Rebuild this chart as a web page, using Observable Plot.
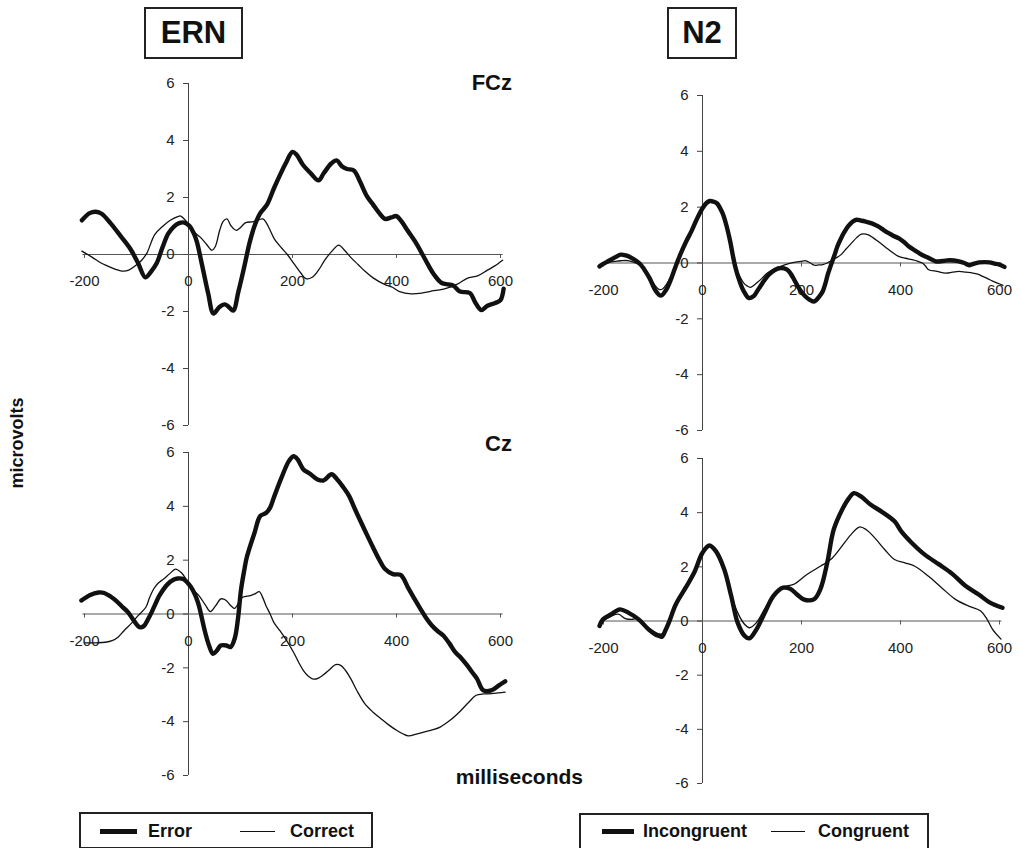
<!DOCTYPE html>
<html>
<head>
<meta charset="utf-8">
<script src="https://cdn.jsdelivr.net/npm/d3@7"></script>
<script src="https://cdn.jsdelivr.net/npm/@observablehq/plot@0.6"></script>
<style>
  html, body { margin: 0; padding: 0; background: #fff; }
  #page { position: relative; width: 1020px; height: 848px; overflow: hidden; font-family: "Liberation Sans", Arial, sans-serif; color: #111; }
  .title { position: absolute; border: 2px solid #222; box-sizing: border-box; font-weight: bold; font-size: 31px; display: flex; align-items: center; justify-content: center; }
  .lab { position: absolute; font-weight: bold; white-space: nowrap; }
  .legend { position: absolute; border: 2px solid #222; box-sizing: border-box; }
  .swatch { position: absolute; background: #111; }
  .ltext { position: absolute; font-weight: bold; font-size: 18px; line-height: 18px; white-space: nowrap; }
  svg { overflow: visible; }
</style>
</head>
<body>
<div id="page"></div>
<script>
// ---------- tick labels ----------
const xTicks = [-200, 0, 200, 400, 600];
const yTicks = [-6, -4, -2, 0, 2, 4, 6];

// ---------- data: [ms, microvolts] ----------
const ernFCzError = [[-205,1.2],[-190,1.45],[-178,1.5],[-167,1.43],[-150,1.1],[-134,0.73],[-122,0.45],[-112,0.2],[-97,-0.3],[-83,-0.8],[-72,-0.6],[-61,-0.3],[-50,0.25],[-39,0.73],[-28,0.98],[-18,1.1],[-8,1.12],[2,1.0],[10,0.75],[16,0.45],[27,-0.45],[38,-1.38],[48,-2.07],[59,-1.85],[70,-1.75],[78,-1.85],[86,-1.97],[96,-1.3],[107,-0.45],[118,0.45],[128,1.05],[138,1.45],[151,1.75],[165,2.35],[187,3.2],[200,3.6],[208,3.5],[220,3.15],[235,2.85],[250,2.6],[260,2.85],[275,3.2],[285,3.3],[295,3.1],[305,3.0],[318,2.95],[330,2.55],[343,2.05],[355,1.75],[367,1.45],[378,1.25],[390,1.3],[400,1.35],[410,1.15],[421,0.85],[436,0.45],[450,0.0],[462,-0.4],[472,-0.7],[487,-1.0],[500,-1.05],[510,-1.1],[522,-1.3],[541,-1.35],[552,-1.7],[563,-1.95],[575,-1.8],[590,-1.7],[600,-1.6],[606,-1.2]];
const ernFCzCorrect = [[-205,0.12],[-185,-0.1],[-170,-0.28],[-156,-0.4],[-140,-0.52],[-128,-0.58],[-115,-0.55],[-101,-0.38],[-90,-0.2],[-80,0.05],[-65,0.7],[-50,0.98],[-35,1.2],[-22,1.32],[-15,1.35],[-6,1.2],[8,0.84],[23,0.6],[35,0.35],[45,0.15],[52,0.3],[60,0.85],[67,1.17],[74,1.25],[82,1.0],[92,0.85],[100,0.95],[110,1.12],[125,1.15],[143,1.25],[150,1.1],[157,0.85],[165,0.55],[178,0.25],[190,0.0],[202,-0.3],[216,-0.65],[226,-0.85],[238,-0.8],[250,-0.55],[262,-0.2],[275,0.1],[289,0.33],[300,0.15],[312,-0.1],[326,-0.35],[340,-0.6],[355,-0.82],[377,-1.05],[392,-1.15],[406,-1.3],[428,-1.38],[450,-1.35],[472,-1.27],[494,-1.2],[516,-1.05],[538,-0.82],[556,-0.75],[575,-0.55],[589,-0.4],[604,-0.2]];

const ernCzError = [[-206,0.5],[-190,0.7],[-173,0.8],[-162,0.78],[-150,0.65],[-139,0.49],[-128,0.28],[-116,0.06],[-105,-0.25],[-94,-0.49],[-86,-0.45],[-78,-0.2],[-71,0.06],[-63,0.4],[-56,0.68],[-40,1.11],[-28,1.28],[-21,1.32],[-10,1.3],[5,0.99],[15,0.6],[20,0.31],[32,-0.68],[40,-1.2],[47,-1.48],[55,-1.35],[62,-1.17],[73,-1.17],[81,-1.23],[89,-0.9],[95,-0.2],[101,0.9],[107,1.6],[112,2.1],[127,3.02],[138,3.64],[149,3.75],[157,3.95],[164,4.32],[180,5.12],[193,5.68],[202,5.86],[210,5.74],[221,5.37],[233,5.22],[248,5.0],[260,4.96],[275,5.19],[286,5.0],[298,4.7],[309,4.38],[320,3.9],[332,3.4],[343,2.95],[355,2.47],[366,2.05],[378,1.67],[393,1.48],[408,1.45],[423,0.95],[435,0.55],[446,0.19],[457,-0.15],[468,-0.43],[480,-0.65],[490,-0.8],[502,-1.1],[513,-1.42],[525,-1.65],[536,-1.91],[547,-2.2],[555,-2.41],[567,-2.84],[582,-2.84],[597,-2.65],[609,-2.5]];
const ernCzCorrect = [[-200,-1.07],[-177,-1.07],[-160,-1.05],[-147,-0.99],[-135,-0.85],[-124,-0.62],[-110,-0.35],[-97,-0.06],[-82,0.25],[-75,0.6],[-67,0.93],[-58,1.15],[-48,1.3],[-36,1.5],[-25,1.67],[-14,1.54],[-5,1.3],[5,0.99],[20,0.68],[32,0.35],[42,0.09],[52,0.3],[62,0.56],[68,0.55],[73,0.49],[82,0.3],[89,0.21],[96,0.4],[104,0.62],[119,0.68],[128,0.75],[136,0.83],[143,0.6],[149,0.31],[157,0.0],[164,-0.31],[175,-0.6],[187,-0.93],[202,-1.42],[212,-1.8],[221,-2.1],[230,-2.3],[240,-2.42],[250,-2.38],[260,-2.25],[272,-2.05],[283,-1.88],[292,-1.9],[302,-2.1],[312,-2.4],[324,-2.85],[339,-3.33],[355,-3.65],[370,-3.89],[385,-4.12],[400,-4.32],[412,-4.45],[423,-4.53],[440,-4.45],[454,-4.38],[470,-4.3],[484,-4.2],[503,-3.95],[522,-3.62],[538,-3.3],[553,-3.02],[568,-2.97],[583,-2.96],[596,-2.93],[609,-2.9]];

const n2FCzIncongruent = [[-208,-0.12],[-203,-0.06],[-189,0.08],[-175,0.22],[-165,0.3],[-155,0.27],[-140,0.15],[-128,0.0],[-118,-0.22],[-107,-0.54],[-94,-1.01],[-84,-1.17],[-73,-0.95],[-63,-0.55],[-53,-0.06],[-43,0.38],[-33,0.77],[-22,1.15],[-12,1.55],[0,1.96],[8,2.15],[15,2.22],[22,2.2],[29,2.14],[36,1.95],[42,1.72],[49,1.3],[56,0.77],[61,0.3],[66,-0.12],[73,-0.55],[80,-0.89],[87,-1.12],[93,-1.25],[103,-1.19],[110,-1.02],[117,-0.83],[125,-0.62],[134,-0.42],[146,-0.25],[158,-0.18],[171,-0.24],[178,-0.38],[185,-0.59],[192,-0.82],[199,-1.01],[208,-1.2],[216,-1.31],[224,-1.38],[229,-1.34],[236,-1.2],[243,-1.01],[248,-0.75],[253,-0.42],[260,-0.05],[267,0.3],[273,0.62],[280,0.89],[287,1.12],[294,1.31],[303,1.48],[311,1.55],[320,1.52],[328,1.49],[342,1.42],[355,1.31],[366,1.18],[376,1.07],[386,0.97],[396,0.89],[407,0.75],[417,0.59],[427,0.47],[437,0.36],[447,0.26],[457,0.18],[471,0.06],[485,0.07],[498,0.1],[508,0.09],[518,0.06],[529,0.0],[539,-0.08],[549,-0.02],[559,0.02],[570,0.03],[580,0.02],[590,-0.02],[600,-0.06],[610,-0.14]];
const n2FCzCongruent = [[-208,-0.08],[-189,0.02],[-175,0.06],[-165,0.08],[-148,0.08],[-128,-0.06],[-118,-0.22],[-107,-0.48],[-96,-0.8],[-87,-0.95],[-80,-0.92],[-73,-0.77],[-63,-0.45],[-53,0.0],[-43,0.4],[-33,0.8],[-22,1.15],[-12,1.53],[0,1.95],[8,2.13],[15,2.2],[22,2.18],[29,2.1],[36,1.92],[42,1.72],[49,1.25],[56,0.6],[62,0.1],[69,-0.24],[76,-0.5],[83,-0.71],[90,-0.82],[97,-0.87],[104,-0.8],[110,-0.71],[120,-0.55],[131,-0.36],[141,-0.25],[151,-0.18],[161,-0.1],[171,-0.04],[185,0.02],[199,0.06],[209,0.08],[218,0.0],[226,-0.08],[235,-0.07],[243,-0.06],[252,0.0],[260,0.08],[270,0.18],[280,0.3],[290,0.5],[301,0.71],[311,0.9],[321,1.03],[335,1.01],[345,0.9],[355,0.77],[366,0.62],[376,0.48],[386,0.35],[396,0.24],[410,0.17],[423,0.12],[434,0.07],[444,0.0],[450,-0.1],[457,-0.24],[474,-0.3],[491,-0.36],[505,-0.33],[518,-0.3],[532,-0.33],[546,-0.36],[556,-0.4],[566,-0.48],[576,-0.56],[586,-0.65],[596,-0.72],[607,-0.8]];

const n2CzIncongruent = [[-208,-0.18],[-201,0.06],[-184,0.25],[-167,0.43],[-150,0.31],[-129,0.06],[-109,-0.31],[-95,-0.5],[-88,-0.55],[-82,-0.58],[-75,-0.35],[-68,-0.06],[-54,0.61],[-34,1.23],[-17,1.78],[0,2.52],[14,2.79],[27,2.58],[44,1.9],[58,0.92],[71,-0.06],[85,-0.55],[95,-0.64],[109,-0.31],[126,0.31],[143,0.92],[163,1.23],[177,1.19],[191,0.98],[204,0.8],[225,0.8],[238,1.17],[252,2.15],[265,3.37],[282,4.11],[296,4.54],[306,4.72],[320,4.6],[340,4.29],[361,4.05],[388,3.68],[402,3.3],[422,2.9],[449,2.45],[477,2.1],[504,1.75],[531,1.3],[558,0.98],[579,0.7],[606,0.49]];
const n2CzCongruent = [[-208,-0.12],[-201,0.0],[-184,0.18],[-170,0.25],[-156,0.09],[-143,0.06],[-129,0.09],[-109,-0.25],[-85,-0.49],[-75,-0.37],[-54,0.55],[-34,1.2],[-17,1.84],[0,2.5],[14,2.76],[27,2.58],[44,1.96],[58,0.98],[71,0.31],[85,-0.12],[95,-0.25],[109,-0.06],[129,0.55],[150,1.04],[170,1.29],[184,1.35],[211,1.72],[238,2.02],[259,2.27],[279,2.7],[300,3.19],[317,3.47],[331,3.37],[348,3.07],[368,2.64],[388,2.27],[409,2.15],[429,2.02],[456,1.66],[483,1.23],[511,0.8],[538,0.55],[562,0.37],[575,0.06],[586,-0.31],[603,-0.67]];

// ---------- panels ----------
const page = document.getElementById("page");
const FONT = "'Liberation Sans', Arial, sans-serif";

function panel({x0, x1, y6, ym6, thick, thin}) {
  const mL = 70, mR = 30, mT = 20, mB = 40;
  const width = (x1 - x0) + mL + mR;
  const height = (ym6 - y6) + mT + mB;
  const msPerPx = 800 / (x1 - x0);
  const uvPerPx = 12 / (ym6 - y6);
  const chart = Plot.plot({
    width, height,
    marginLeft: mL, marginRight: mR, marginTop: mT, marginBottom: mB,
    x: {domain: [-200, 600], axis: null},
    y: {domain: [-6, 6], axis: null},
    style: {fontFamily: FONT, background: "transparent", overflow: "visible"},
    marks: [
      Plot.ruleY([0], {x1: -203, x2: 605, stroke: "#555", strokeWidth: 1}),
      Plot.ruleX([0], {y1: -6, y2: 6, stroke: "#444", strokeWidth: 1}),
      Plot.ruleY(yTicks, {y: d => d, x1: -5 * msPerPx, x2: 0, stroke: "#444", strokeWidth: 1}),
      Plot.ruleX(xTicks, {x: d => d, y1: 0, y2: -4 * uvPerPx, stroke: "#555", strokeWidth: 1}),
      Plot.text(yTicks, {x: 0, y: d => d, text: d => String(d), textAnchor: "end", dx: -14, fontSize: 15, fill: "#222"}),
      Plot.text(xTicks, {x: d => d, y: 0, text: d => String(d), dy: 27, fontSize: 15, fill: "#222"}),
      Plot.line(thin, {x: d => d[0], y: d => d[1], stroke: "#111", strokeWidth: 1.3, curve: "catmull-rom"}),
      Plot.line(thick, {x: d => d[0], y: d => d[1], stroke: "#111", strokeWidth: 4.4, curve: "catmull-rom", strokeLinejoin: "round"})
    ]
  });
  chart.style.position = "absolute";
  chart.style.left = (x0 - mL) + "px";
  chart.style.top = (y6 - mT) + "px";
  page.appendChild(chart);
}

panel({x0: 84, x1: 500, y6: 83, ym6: 425, thick: ernFCzError, thin: ernFCzCorrect});
panel({x0: 84, x1: 500, y6: 452, ym6: 775, thick: ernCzError, thin: ernCzCorrect});
panel({x0: 603, x1: 999, y6: 95, ym6: 430, thick: n2FCzIncongruent, thin: n2FCzCongruent});
panel({x0: 603, x1: 999, y6: 458, ym6: 783, thick: n2CzIncongruent, thin: n2CzCongruent});

// ---------- annotations ----------
function el(cls, css, text) {
  const d = document.createElement("div");
  d.className = cls;
  Object.assign(d.style, css);
  if (text != null) d.textContent = text;
  page.appendChild(d);
  return d;
}
el("title", {left: "144px", top: "7px", width: "99px", height: "52px"}, "ERN");
el("title", {left: "667px", top: "7px", width: "70px", height: "52px"}, "N2");
el("lab", {right: (1020 - 512) + "px", top: "70px", fontSize: "22px"}, "FCz");
el("lab", {right: (1020 - 512) + "px", top: "431px", fontSize: "22px"}, "Cz");
el("lab", {right: (1020 - 583) + "px", top: "765px", fontSize: "21px"}, "milliseconds");
el("lab", {left: "17px", top: "443px", fontSize: "18px", transform: "translate(-50%,-50%) rotate(-90deg)"}, "microvolts");

// legends
el("legend", {left: "79px", top: "812px", width: "294px", height: "37px"});
el("swatch", {left: "100px", top: "829px", width: "37px", height: "5px"});
el("ltext", {left: "148px", top: "822px"}, "Error");
el("swatch", {left: "240px", top: "831px", width: "35px", height: "1.3px"});
el("ltext", {left: "290px", top: "822px"}, "Correct");

el("legend", {left: "579px", top: "813px", width: "350px", height: "37px"});
el("swatch", {left: "602px", top: "829px", width: "32px", height: "5px"});
el("ltext", {left: "643px", top: "822px"}, "Incongruent");
el("swatch", {left: "771px", top: "831px", width: "34px", height: "1.3px"});
el("ltext", {left: "818px", top: "822px"}, "Congruent");
</script>
</body>
</html>
